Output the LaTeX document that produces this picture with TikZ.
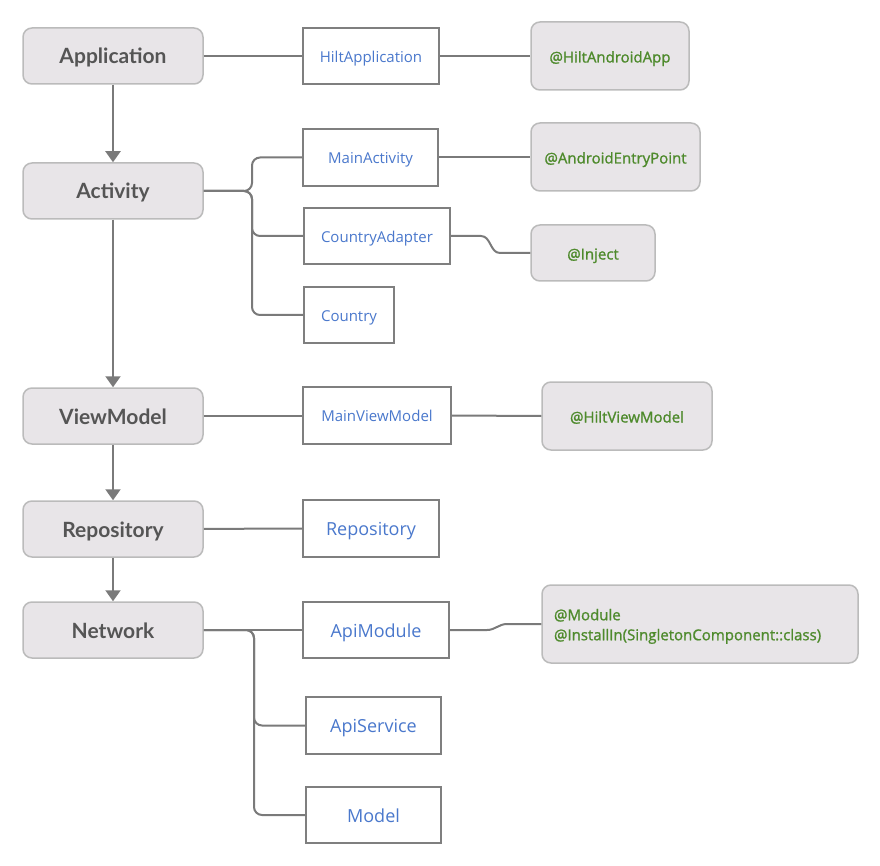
\documentclass[tikz,border=0pt]{standalone}
\usepackage{fontspec}
\setmainfont{Open Sans}
\newfontfamily\latofont{Lato}
\newfontfamily\opensans{Open Sans}
\newfontfamily\greenfont{Open Sans}[FakeBold=1.2]
\usetikzlibrary{arrows.meta}
\definecolor{boxfill}{HTML}{E8E5E8}
\definecolor{boxdraw}{HTML}{BBBBBB}
\definecolor{labgray}{HTML}{555555}
\definecolor{wdraw}{HTML}{7F7F7F}
\definecolor{lineg}{HTML}{7A7A7A}
\definecolor{bluetxt}{HTML}{4A78CC}
\definecolor{greentxt}{HTML}{4E8A2C}
\tikzset{
  layer/.style={draw=boxdraw, fill=boxfill, line width=1.5pt, rounded corners=9pt,
    minimum width=180pt, minimum height=56pt, inner sep=0pt, text=labgray,
    text height=16pt, text depth=0pt,
    font=\latofont\bfseries\fontsize{21}{24}\selectfont},
  cls/.style={draw=wdraw, fill=white, line width=2pt, minimum height=56pt, inner sep=0pt,
    text=bluetxt, text height=12.6pt, text depth=0pt,
    font=\opensans\fontsize{15}{18}\selectfont},
  clsbig/.style={cls, text height=14pt, text depth=0pt,
    font=\opensans\fontsize{18}{21}\selectfont},
  ann/.style={draw=boxdraw, fill=boxfill, line width=1.5pt, rounded corners=9pt,
    inner sep=0pt, text=greentxt, text height=13pt, text depth=0pt,
    font=\greenfont\fontsize{15}{20}\selectfont},
  conn/.style={draw=lineg, line width=2pt},
  arr/.style={conn, -{Triangle[width=15pt,length=11pt]}}
}
\begin{document}
\begin{tikzpicture}[x=1pt,y=-1pt]
\useasboundingbox (0,0) rectangle (880,866);
% left layer boxes
\node[layer] (app) at (113,56) {Application};
\node[layer] (act) at (113,191) {Activity};
\node[layer] (vm) at (113,416) {ViewModel};
\node[layer] (repo) at (113,529) {Repository};
\node[layer] (net) at (113,630) {Network};
% class boxes
\node[cls, minimum width=136pt] (happ) at (371,56) {HiltApplication};
\node[cls, minimum width=135pt, minimum height=57pt] (ma) at (370.5,157.5) {MainActivity};
\node[cls, minimum width=146pt] (ca) at (377,236) {CountryAdapter};
\node[cls, minimum width=90pt] (co) at (349,315) {Country};
\node[cls, minimum width=148pt, minimum height=57pt] (mvm) at (377,415.5) {MainViewModel};
\node[clsbig, minimum width=136pt, minimum height=57pt] (rp) at (371,528.5) {Repository};
\node[clsbig, minimum width=146pt] (am) at (376,630) {ApiModule};
\node[clsbig, minimum width=135pt, minimum height=57pt] (as) at (373.5,725.5) {ApiService};
\node[clsbig, minimum width=135pt] (mo) at (373.5,815) {Model};
% annotation boxes
\node[ann, minimum width=158pt, minimum height=68pt] (haa) at (610,56) {@HiltAndroidApp};
\node[ann, minimum width=169pt, minimum height=68pt] (aep) at (615.5,157) {@AndroidEntryPoint};
\node[ann, minimum width=124pt, minimum height=56pt] (inj) at (593,253) {@Inject};
\node[ann, minimum width=170pt, minimum height=68pt] (hvm) at (627,416) {@HiltViewModel};
\node[ann, minimum width=316pt, minimum height=78pt, align=left, text width=292pt,
  text height=12pt, text depth=19.5pt] (mod) at (700,624)
  {@Module\\@InstallIn(SingletonComponent::class)};
% vertical arrows
\draw[arr] (app) -- (act);
\draw[arr] (act) -- (vm);
\draw[arr] (vm) -- (repo);
\draw[arr] (repo) -- (net);
% horizontal connectors
\draw[conn] (app) -- (happ);
\draw[conn] (happ) -- (haa);
\draw[conn] (ma) -- (ma.east -| aep.west);
\draw[conn] (vm.east) -- (vm.east -| mvm.west);
\draw[conn] (mvm.east) -- (hvm.west);
\draw[conn] (repo) -- (rp);
\draw[conn] (net.east) -- (am.west);
\draw[conn] (ca.east) -- ++(30,0) .. controls +(10,0) and +(-10,0) .. (500,253) -- (inj.west);
\draw[conn] (am.east) -- ++(37,0) .. controls +(8,0) and +(-8,0) .. (507,624) -- (mod.west);
% activity brace
\coordinate (aj) at (252,191);
\draw[conn, rounded corners=8pt] (act.east) -- (aj) |- (ma.west);
\draw[conn, rounded corners=8pt] (act.east) -- (aj) |- (ca.west);
\draw[conn, rounded corners=8pt] (act.east) -- (aj) |- (co.west);
% network branch
\coordinate (nj) at (254,630);
\draw[conn, rounded corners=8pt] (net.east) -- (nj) |- (as.west);
\draw[conn, rounded corners=8pt] (net.east) -- (nj) |- (mo.west);
\end{tikzpicture}
\end{document}
